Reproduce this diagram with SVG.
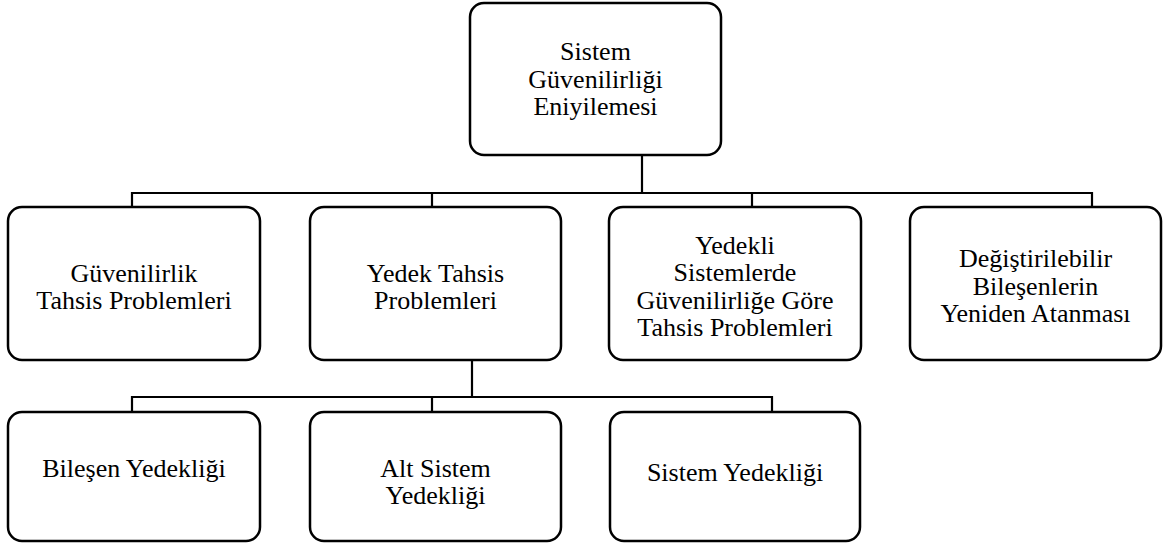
<svg xmlns="http://www.w3.org/2000/svg" width="1165" height="544" viewBox="0 0 1165 544">
<style>
.box{fill:#fff;stroke:#000;stroke-width:2.5}
.ln{fill:none;stroke:#000;stroke-width:2.2;stroke-linecap:square}
text{font-family:"Liberation Serif","Times New Roman",serif;font-size:26px;fill:#000;text-anchor:middle}
</style>
<rect width="1165" height="544" fill="#fff"/>
<g id="connectors">
<path class="ln" d="M642 155V193M132 193H1092M132 193V207M432 193V207M752 193V207M1092 193V207"/>
<path class="ln" d="M472 360V397M132 397H772M132 397V412M432 397V412M772 397V412"/>
</g>
<g id="n0">
<rect class="box" x="470" y="3" width="251" height="152" rx="14"/>
<text x="595.5" y="60">Sistem</text>
<text x="595.5" y="87.5">Güvenilirliği</text>
<text x="595.5" y="115">Eniyilemesi</text>
</g>
<g id="n1">
<rect class="box" x="8" y="207" width="252" height="153" rx="14"/>
<text x="134" y="281.5">Güvenilirlik</text>
<text x="134" y="309">Tahsis Problemleri</text>
</g>
<g id="n2">
<rect class="box" x="310" y="207" width="251" height="153" rx="14"/>
<text x="435.5" y="281.5">Yedek Tahsis</text>
<text x="435.5" y="309">Problemleri</text>
</g>
<g id="n3">
<rect class="box" x="609" y="207" width="252" height="153" rx="14"/>
<text x="735" y="253.5">Yedekli</text>
<text x="735" y="281">Sistemlerde</text>
<text x="735" y="308.5">Güvenilirliğe Göre</text>
<text x="735" y="336">Tahsis Problemleri</text>
</g>
<g id="n4">
<rect class="box" x="910" y="207" width="251" height="153" rx="14"/>
<text x="1035.5" y="267">Değiştirilebilir</text>
<text x="1035.5" y="294.5">Bileşenlerin</text>
<text x="1035.5" y="322">Yeniden Atanması</text>
</g>
<g id="n5">
<rect class="box" x="8" y="412" width="252" height="129" rx="14"/>
<text x="134" y="477">Bileşen Yedekliği</text>
</g>
<g id="n6">
<rect class="box" x="310" y="412" width="251" height="129" rx="14"/>
<text x="435.5" y="476.5">Alt Sistem</text>
<text x="435.5" y="504">Yedekliği</text>
</g>
<g id="n7">
<rect class="box" x="610" y="412" width="250" height="129" rx="14"/>
<text x="735" y="481">Sistem Yedekliği</text>
</g>
</svg>
